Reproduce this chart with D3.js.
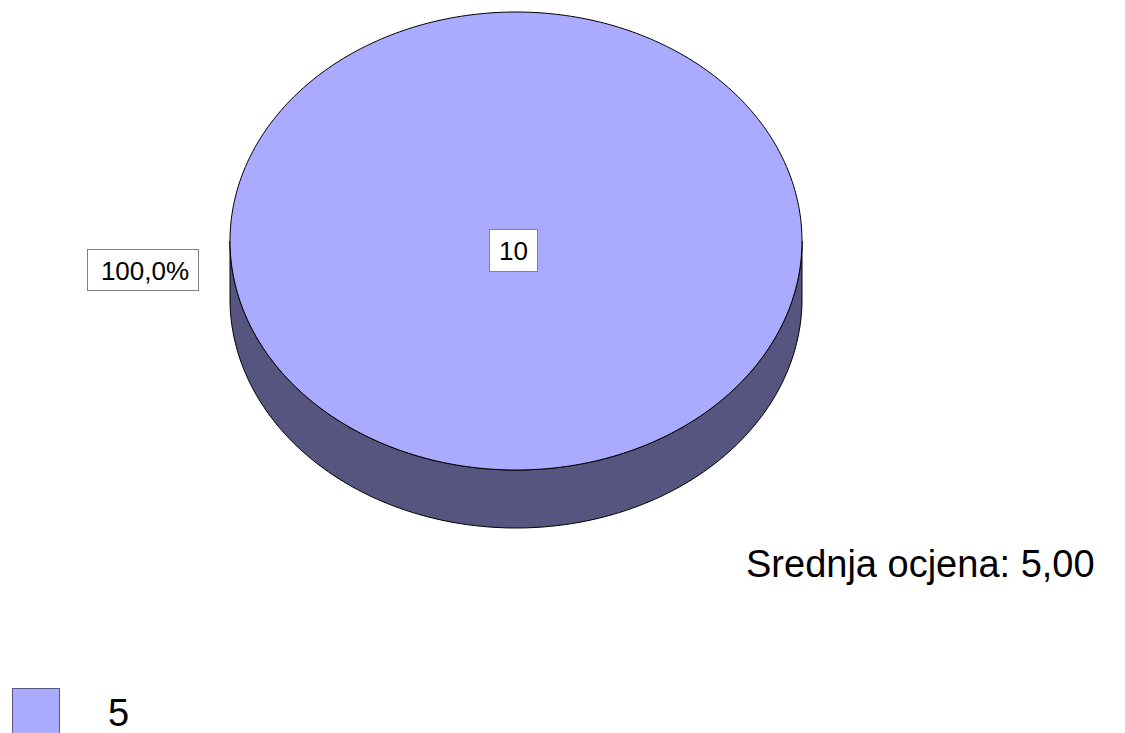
<!DOCTYPE html>
<html><head><meta charset="utf-8">
<script src="https://cdn.jsdelivr.net/npm/d3@7"></script>
<style>html,body{margin:0;padding:0;background:#fff;}svg{display:block;font-family:"Liberation Sans",Arial,sans-serif;}</style>
</head><body>
<svg id="c" width="1125" height="733"></svg>
<script>
const categories = ["5"];
const values = [10];
const percentLabels = ["100,0%"];
const meanLabel = "Srednja ocjena: 5,00";
const topColors = ["#aaaaff"];
const sideColors = ["#55557f"];

const svg = d3.select("#c");
const cx = 516, cy = 241, rx = 286, ry = 229, depth = 58;

const pie = d3.pie().sort(null).value(d => d)(values);
const px = a => cx + rx * Math.sin(a);
const py = a => cy - ry * Math.cos(a);
const line = d3.line();

function arcPts(a0, a1, dy) {
  const n = Math.max(2, Math.ceil((a1 - a0) / (Math.PI / 180)));
  const s = d3.scaleLinear().domain([0, n]).range([a0, a1]);
  return d3.range(n + 1).map(i => [px(s(i)), py(s(i)) + dy]);
}

// side faces (front half: angles between PI/2 and 3PI/2)
pie.forEach((d, i) => {
  const a0 = Math.max(d.startAngle, Math.PI / 2);
  const a1 = Math.min(d.endAngle, 3 * Math.PI / 2);
  if (a1 <= a0) return;
  const top = arcPts(a0, a1, 0);
  const bot = arcPts(a0, a1, depth).reverse();
  svg.append("path")
    .attr("d", line(top.concat(bot)) + "Z")
    .attr("fill", sideColors[i]).attr("stroke", "#000").attr("stroke-width", 1);
});

// top faces
pie.forEach((d, i) => {
  const full = d.endAngle - d.startAngle >= 2 * Math.PI - 1e-6;
  const pts = arcPts(d.startAngle, d.endAngle, 0);
  const p = full ? line(pts) + "Z" : "M" + cx + "," + cy + "L" + line(pts).slice(1) + "Z";
  svg.append("path").attr("d", p)
    .attr("fill", topColors[i]).attr("stroke", "#000").attr("stroke-width", 1);
});

// value label
pie.forEach((d, i) => {
  const g = svg.append("g");
  g.append("rect").attr("x", 489.5).attr("y", 229.5).attr("width", 48).attr("height", 42)
    .attr("fill", "#fff").attr("stroke", "#7f7f9f");
  g.append("text").attr("x", 513.5).attr("y", 260).attr("text-anchor", "middle")
    .attr("font-size", 26).text(values[i]);
  const g2 = svg.append("g");
  g2.append("rect").attr("x", 87.5).attr("y", 249.5).attr("width", 111).attr("height", 41)
    .attr("fill", "#fff").attr("stroke", "#808080");
  g2.append("text").attr("x", 145).attr("y", 280).attr("text-anchor", "middle")
    .attr("font-size", 26).text(percentLabels[i]);
});

svg.append("text").attr("x", 746).attr("y", 577).attr("font-size", 38).text(meanLabel);

// legend
categories.forEach((c, i) => {
  svg.append("rect").attr("x", 12.5).attr("y", 688.5 + i * 50).attr("width", 47).attr("height", 47)
    .attr("fill", topColors[i]).attr("stroke", "#55557f");
  svg.append("text").attr("x", 108).attr("y", 726 + i * 50).attr("font-size", 38).text(c);
});
</script>
</body></html>
